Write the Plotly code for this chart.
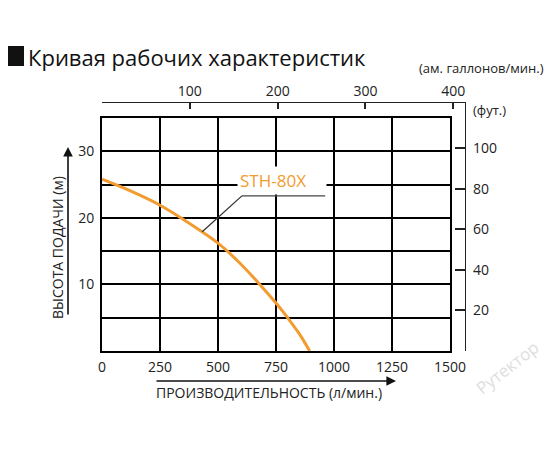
import plotly.graph_objects as go

# ---- data ----
flow_lpm = [0, 125, 250, 340, 500, 600, 680, 750, 800, 850, 895]
head_m = [25.8, 24.0, 21.9, 20.0, 16.2, 13.0, 10.0, 7.2, 5.0, 2.6, 0.0]
series_name = "STH-80X"

x_ticks = [0, 250, 500, 750, 1000, 1250, 1500]
y_ticks = [10, 20, 30]
y_minor = [5, 15, 25, 35]
gal_ticks = [100, 200, 300, 400]
ft_ticks = [20, 40, 60, 80, 100]

X_MAX = 1500
Y_MAX = 35
L_PER_GAL = 3.78541
FT_PER_M = 3.28084

# ---- layout geometry (pixels) ----
W, H = 550, 450
ML, MR, MT, MB = 102, 85, 102, 99
PW = W - ML - MR
PH = H - MT - MB
XDOM = (450 - ML) / PW
YDOM = (351 - 118) / PH

def PX(x):
    return (x - ML) / PW

def PY(y):
    return (H - MB - y) / PH

FONT = "Open Sans"
ORANGE = "#F29B30"

fig = go.Figure()
fig.add_trace(go.Scatter(
    x=flow_lpm, y=head_m, mode="lines", name=series_name,
    line=dict(color=ORANGE, width=3, shape="spline"),
    showlegend=False, hoverinfo="skip"))
fig.add_trace(go.Scatter(x=[], y=[], xaxis="x2", yaxis="y2",
                         showlegend=False, hoverinfo="skip"))

fig.update_layout(
    width=W, height=H,
    margin=dict(l=ML, r=MR, t=MT, b=MB, autoexpand=False),
    paper_bgcolor="white", plot_bgcolor="rgba(0,0,0,0)",
    font=dict(family=FONT, size=14, color="#222"),
    xaxis=dict(domain=[0, XDOM], range=[0, X_MAX], tickvals=x_ticks,
               showgrid=True, gridcolor="black", gridwidth=2,
               showline=True, linecolor="black", linewidth=2, mirror=True,
               zeroline=False, ticks="", ticklabelstandoff=2, automargin=False,
               tickfont=dict(size=14)),
    yaxis=dict(domain=[0, YDOM], range=[0, Y_MAX], tickvals=y_ticks,
               showgrid=True, gridcolor="black", gridwidth=2,
               minor=dict(tickvals=y_minor, showgrid=True,
                          gridcolor="black", gridwidth=2),
               showline=True, linecolor="black", linewidth=2, mirror=True,
               zeroline=False, ticks="", ticklabelstandoff=3, automargin=False,
               tickfont=dict(size=14)),
    xaxis2=dict(domain=[0, 1], anchor="free", position=1, side="top",
                range=[0, X_MAX / XDOM / L_PER_GAL], tickvals=gal_ticks,
                showgrid=False, zeroline=False, automargin=False,
                showline=True, linecolor="#222", linewidth=1.3,
                ticks="inside", ticklen=6, tickwidth=2, tickcolor="#222",
                ticklabelstandoff=0, tickfont=dict(size=14)),
    yaxis2=dict(domain=[0, 1], anchor="free", position=1, side="right",
                range=[0, Y_MAX / YDOM * FT_PER_M], tickvals=ft_ticks,
                showgrid=False, zeroline=False, automargin=False,
                showline=True, linecolor="#222", linewidth=1.3,
                ticks="inside", ticklen=10, tickwidth=2, tickcolor="#222",
                ticklabelstandoff=4, tickfont=dict(size=14)),
)

ann = []
ann.append(dict(text="Кривая рабочих характеристик", xref="paper", yref="paper",
                x=PX(26), y=PY(57), xanchor="left", yanchor="middle",
                showarrow=False, font=dict(size=22, color="#111")))
ann.append(dict(text="(ам. галлонов/мин.)", xref="paper", yref="paper",
                x=PX(546), y=PY(68), xanchor="right", yanchor="middle",
                showarrow=False, font=dict(size=13)))
ann.append(dict(text="(фут.)", xref="paper", yref="paper",
                x=PX(471), y=PY(110), xanchor="left", yanchor="middle",
                showarrow=False, font=dict(size=13)))
ann.append(dict(text="ВЫСОТА ПОДАЧИ (м)", xref="paper", yref="paper",
                x=PX(57), y=PY(248), xanchor="center", yanchor="middle",
                textangle=-90, showarrow=False, font=dict(size=14)))
ann.append(dict(text="", xref="paper", yref="paper", x=PX(68), y=PY(147),
                ax=0, ay=169, showarrow=True, arrowhead=2, arrowsize=1.2,
                arrowwidth=1.6, arrowcolor="#111"))
ann.append(dict(text="ПРОИЗВОДИТЕЛЬНОСТЬ (л/мин.)", xref="paper", yref="paper",
                x=PX(269), y=PY(393), xanchor="center", yanchor="middle",
                showarrow=False, font=dict(size=14)))
ann.append(dict(text="", xref="paper", yref="paper", x=PX(396), y=PY(381),
                ax=-241, ay=0, showarrow=True, arrowhead=2, arrowsize=1.2,
                arrowwidth=1.6, arrowcolor="#111"))
ann.append(dict(text=series_name, xref="paper", yref="paper",
                x=PX(237), y=PY(195), xanchor="left", yanchor="bottom",
                width=84, align="left", bgcolor="white", borderpad=2,
                showarrow=False, font=dict(size=17, color=ORANGE)))
ann.append(dict(text="Рутектор", xref="paper", yref="paper",
                x=PX(507), y=PY(367), xanchor="center", yanchor="middle",
                textangle=-38, showarrow=False,
                font=dict(size=17, color="#dedede")))
fig.update_layout(annotations=ann)

shapes = []
shapes.append(dict(type="rect", xref="paper", yref="paper",
                   x0=PX(8), x1=PX(24), y0=PY(66), y1=PY(46),
                   fillcolor="#111", line=dict(width=0)))
shapes.append(dict(type="line", xref="x", yref="y", x0=432, y0=17.9,
                   x1=603, y1=23.3, line=dict(color="#333", width=1.3)))
shapes.append(dict(type="line", xref="x", yref="y", x0=603, y0=23.3,
                   x1=962, y1=23.3, line=dict(color="#444", width=1.3)))
fig.update_layout(shapes=shapes)

fig.write_html("out.html", config={"displayModeBar": False},
               post_script="document.body.style.margin='0px';")
